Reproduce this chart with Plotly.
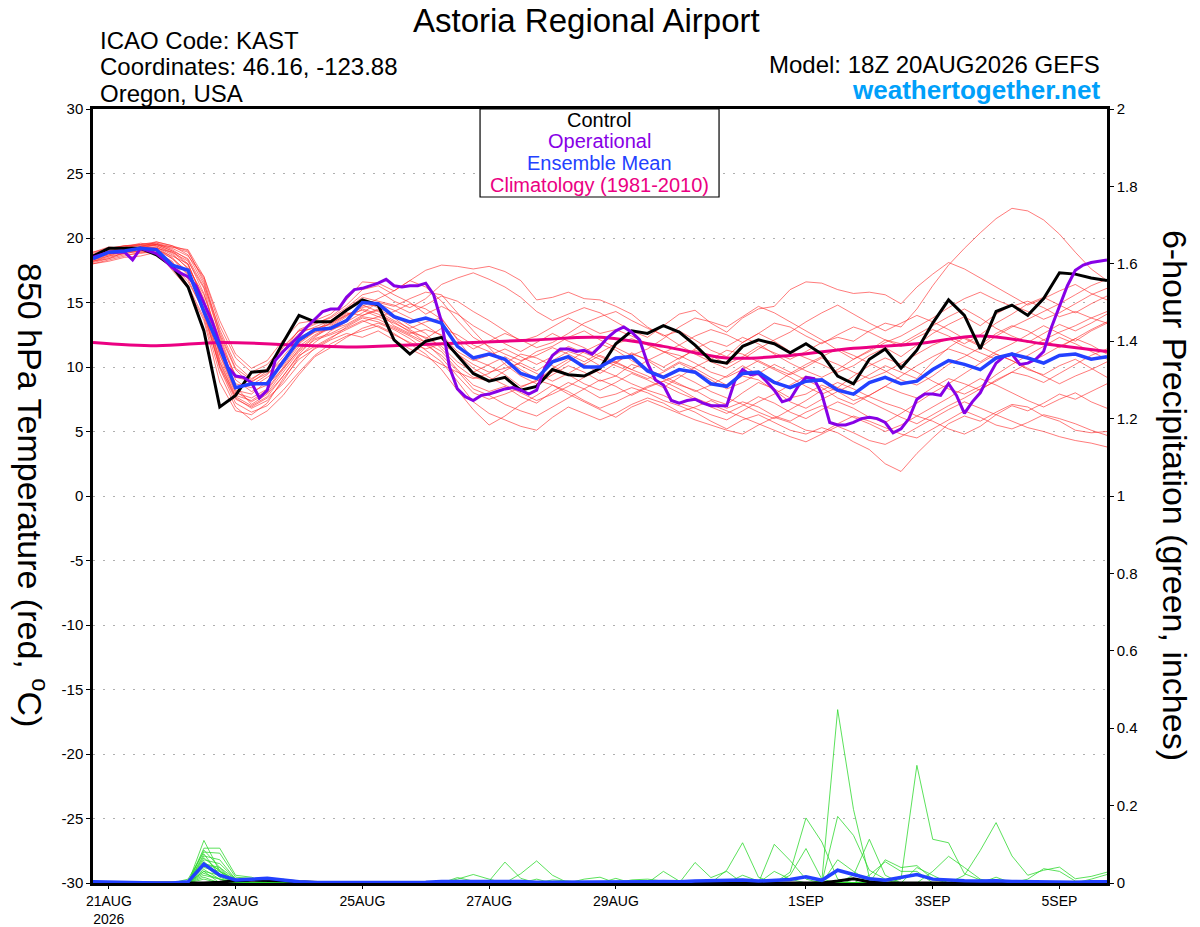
import pandas as pd
import plotly.graph_objects as go

# time axes (6-hourly ensemble, 3-hourly operational, daily climatology)
times = pd.date_range("2026-08-20 18:00", periods=65, freq="6h")
op_times = pd.date_range("2026-08-20 18:00", periods=129, freq="3h")
clim_times = pd.date_range("2026-08-20 18:00", periods=17, freq="24h")

tick_dates = ["2026-08-21", "2026-08-23", "2026-08-25", "2026-08-27", "2026-08-29",
              "2026-09-01", "2026-09-03", "2026-09-05"]
tick_labels = ["21AUG<br>2026", "23AUG", "25AUG", "27AUG", "29AUG", "1SEP", "3SEP", "5SEP"]
temp_ticks = [-30, -25, -20, -15, -10, -5, 0, 5, 10, 15, 20, 25, 30]
temp_tick_text = ["-30", "-25", "-20", "-15", "-10", "-5", "0", "5", "10", "15", "20", "25", "30"]

# 850 hPa temperature, control / mean / climatology / operational
control_t = [18.6, 19.2, 19.2, 19.2, 18.7, 17.8, 16.2, 12.8, 6.9, 7.8,
             9.6, 9.7, 11.9, 14.0, 13.5, 13.5, 14.4, 15.2, 14.8, 12.1,
             11.0, 12.0, 12.3, 10.9, 9.5, 8.9, 9.2, 8.2, 8.5, 9.8,
             9.4, 9.3, 9.9, 11.8, 12.8, 12.6, 13.2, 12.7, 11.7, 10.5,
             10.3, 11.6, 12.1, 11.8, 11.1, 11.8, 11.0, 9.3, 8.7, 10.6,
             11.4, 9.9, 11.3, 13.4, 15.2, 14.0, 11.4, 14.3, 14.8, 14.0,
             15.3, 17.3, 17.2, 16.9, 16.7]
mean_t = [18.4, 18.9, 19.0, 19.2, 19.1, 17.9, 17.5, 14.3, 11.5, 8.4,
          8.7, 8.7, 10.4, 12.1, 12.9, 13.0, 13.6, 15.0, 14.9, 13.9,
          13.5, 13.8, 13.4, 11.6, 10.7, 11.0, 10.6, 9.5, 9.1, 10.4,
          10.8, 10.0, 10.0, 10.7, 10.8, 9.7, 9.2, 9.8, 9.6, 8.7,
          8.5, 9.5, 9.6, 8.8, 8.4, 8.9, 9.0, 8.2, 7.9, 8.8,
          9.2, 8.7, 8.9, 9.8, 10.5, 10.2, 9.8, 10.7, 11.0, 10.7,
          10.3, 10.9, 11.0, 10.6, 10.8]
clim_t = [11.9, 11.65, 11.9, 11.75, 11.55, 11.7, 11.9, 12.1, 12.3, 11.6,
          10.7, 10.9, 11.45, 11.8, 12.4, 11.8, 11.2]
oper_t = [18.5, 18.7, 18.9, 18.9, 18.9, 18.3, 19.2, 19.0, 18.8, 18.3,
          17.7, 17.3, 17.0, 16.3, 15.0, 13.6, 11.8, 10.0, 9.3, 9.2,
          8.8, 7.6, 8.2, 10.5, 11.2, 11.8, 12.4, 13.1, 13.7, 14.3,
          14.5, 14.5, 15.4, 16.0, 16.1, 16.3, 16.5, 16.8, 16.3, 16.2,
          16.3, 16.3, 16.5, 15.6, 13.5, 10.0, 8.3, 7.7, 7.4, 7.8,
          7.9, 8.1, 8.3, 8.4, 8.2, 7.9, 8.2, 9.9, 10.9, 11.4,
          11.4, 11.2, 11.3, 11.0, 11.6, 12.3, 12.8, 13.1, 12.7, 12.1,
          10.3, 9.0, 8.6, 7.4, 7.2, 7.4, 7.5, 7.2, 7.0, 7.0,
          7.0, 8.9, 9.8, 9.4, 9.5, 8.9, 8.2, 7.3, 7.5, 8.5,
          9.2, 9.1, 7.9, 5.7, 5.5, 5.5, 5.7, 6.0, 6.1, 6.0,
          5.7, 4.9, 5.2, 6.0, 7.5, 7.9, 7.9, 7.8, 8.7, 7.8,
          6.4, 7.3, 8.0, 9.2, 10.3, 10.8, 11.0, 10.2, 10.3, 10.6,
          11.2, 13.1, 14.7, 16.3, 17.5, 17.9, 18.1, 18.2, 18.3]

# ensemble members, temperature
t_m01 = [18.3, 18.7, 19.0, 19.3, 19.5, 19.0, 18.4, 16.2, 12.5, 9.8, 8.6, 9.4, 10.8,
         12.3, 12.9, 13.4, 14.0, 14.6, 14.9, 14.4, 13.8, 13.2, 12.4, 11.0, 10.2, 9.6,
         9.9, 10.3, 9.7, 10.5, 11.2, 10.8, 10.1, 10.4, 11.0, 10.6, 10.0, 10.7, 11.3,
         10.9, 10.2, 10.8, 11.6, 11.1, 10.6, 11.2, 11.9, 12.3, 12.0, 12.8, 13.4, 13.1,
         14.5, 16.3, 17.9, 19.2, 20.4, 21.5, 22.3, 22.1, 21.4, 20.3, 18.9, 17.6, 16.7]
t_m02 = [18.9, 19.3, 19.2, 19.5, 19.6, 19.3, 19.1, 17.0, 13.6, 11.0, 9.9, 10.5, 12.1,
         13.4, 13.6, 14.1, 15.2, 16.6, 16.5, 15.9, 16.7, 17.5, 17.9, 17.8, 17.6, 17.8,
         17.4, 16.7, 15.2, 15.4, 15.8, 15.3, 15.2, 14.7, 14.1, 13.1, 12.4, 12.8, 12.1,
         11.3, 10.8, 11.9, 12.6, 12.0, 11.2, 10.7, 10.2, 9.6, 10.1, 10.9, 11.5, 10.8,
         11.7, 12.6, 13.3, 13.9, 13.2, 14.1, 14.8, 14.3, 13.7, 14.2, 14.9, 15.6, 16.1]
t_m03 = [18.2, 18.5, 18.8, 19.0, 19.1, 18.6, 18.0, 15.1, 11.2, 8.5, 7.1, 7.9, 9.3,
         11.0, 12.2, 12.6, 13.2, 13.9, 13.7, 13.1, 12.5, 11.9, 11.2, 9.8, 8.6, 8.1,
         8.5, 7.7, 7.2, 8.1, 8.8, 8.3, 7.6, 7.9, 8.4, 8.0, 7.4, 7.0, 6.5,
         5.8, 5.2, 5.9, 6.3, 5.7, 5.1, 4.8, 5.3, 4.9, 4.2, 3.6, 2.5, 1.9,
         3.3, 4.5, 5.6, 6.2, 5.8, 6.5, 7.1, 6.9, 6.2, 5.8, 5.1, 4.9, 5.0]
t_m04 = [18.5, 18.9, 19.3, 19.6, 19.4, 18.8, 17.6, 14.0, 10.1, 7.6, 6.8, 7.4, 8.9,
         10.8, 11.9, 12.8, 13.5, 14.2, 15.0, 14.7, 15.3, 15.8, 15.6, 14.2, 12.8, 11.5,
         10.2, 9.3, 8.7, 9.4, 10.1, 9.6, 8.9, 9.3, 10.2, 9.8, 9.1, 8.6, 8.2,
         7.5, 7.1, 8.0, 8.8, 8.3, 7.6, 7.9, 8.6, 8.1, 7.4, 7.8, 8.5, 8.0,
         7.6, 8.4, 9.1, 8.7, 8.2, 9.0, 9.6, 9.3, 8.8, 9.5, 10.2, 10.9, 11.4]
t_m05 = [18.0, 18.2, 18.5, 18.6, 18.9, 18.2, 16.3, 13.8, 9.5, 6.9, 5.9, 6.6, 7.8,
         9.4, 10.8, 11.5, 12.3, 13.0, 13.4, 12.9, 12.2, 11.3, 10.4, 8.9, 7.3, 6.4,
         5.9, 5.4, 5.1, 6.1, 6.9, 6.4, 5.9, 6.4, 7.1, 7.6, 7.2, 6.5, 6.9,
         7.4, 6.8, 7.3, 6.9, 6.2, 5.8, 6.5, 7.0, 6.6, 6.1, 5.6, 5.0, 5.5,
         6.2, 5.8, 5.2, 4.8, 5.4, 6.3, 7.0, 6.6, 7.2, 7.9, 7.5, 8.1, 8.7]
t_m06 = [18.6, 19.0, 19.1, 19.3, 19.7, 19.4, 18.7, 16.4, 12.9, 10.2, 9.1, 9.8, 11.3,
         12.6, 13.1, 13.6, 14.4, 15.1, 14.6, 14.0, 13.2, 12.6, 11.4, 10.1, 9.2, 8.9,
         9.7, 10.4, 11.2, 11.6, 12.3, 12.8, 12.1, 11.5, 10.9, 11.4, 12.2, 13.1, 13.8,
         13.5, 13.1, 13.9, 14.7, 14.2, 13.5, 12.8, 12.1, 11.3, 10.6, 11.2, 11.9, 12.4,
         13.1, 13.8, 14.6, 15.3, 15.8, 15.2, 14.7, 15.1, 14.6, 13.9, 14.3, 13.8, 13.4]
t_m07 = [18.4, 18.8, 18.9, 19.1, 19.3, 18.5, 17.2, 14.6, 10.6, 8.0, 7.6, 8.3, 10.0,
         11.6, 12.5, 13.1, 13.9, 14.8, 14.3, 13.6, 13.0, 13.5, 13.8, 12.1, 10.6, 10.1,
         9.4, 8.5, 8.9, 9.9, 10.6, 10.2, 9.5, 10.3, 11.1, 10.5, 9.7, 10.4, 9.9,
         9.2, 8.6, 9.3, 9.0, 8.2, 7.3, 6.8, 7.5, 8.1, 8.7, 9.4, 10.1, 9.6,
         9.1, 10.4, 11.5, 12.3, 11.7, 12.6, 13.2, 12.8, 12.1, 11.5, 12.2, 12.9, 13.5]
t_m08 = [18.1, 18.4, 18.9, 19.2, 19.0, 17.5, 16.1, 13.6, 8.8, 6.6, 6.3, 7.2, 9.1,
         10.6, 11.4, 12.1, 12.6, 12.3, 12.8, 12.1, 11.4, 10.8, 10.2, 9.6, 9.1, 9.5,
         10.3, 11.0, 10.7, 10.1, 9.4, 8.7, 8.2, 8.8, 9.5, 9.0, 8.4, 9.2, 10.0,
         10.6, 11.3, 11.0, 10.4, 9.8, 9.2, 8.5, 7.9, 8.4, 9.3, 10.1, 10.7, 10.2,
         9.6, 8.9, 8.3, 7.9, 8.5, 9.4, 10.2, 10.9, 11.6, 12.3, 11.8, 11.2, 10.6]
t_m09 = [18.7, 19.1, 19.4, 19.5, 19.6, 19.1, 18.3, 15.7, 11.8, 9.4, 8.8, 9.7, 11.2,
         12.9, 13.4, 13.8, 14.6, 15.6, 15.9, 15.1, 14.6, 15.3, 16.4, 16.9, 17.3, 16.8,
         16.2, 15.4, 14.3, 13.6, 14.1, 14.6, 14.2, 13.5, 12.8, 12.3, 13.2, 14.1, 14.4,
         13.4, 12.7, 13.8, 14.5, 14.7, 16.0, 16.6, 16.5, 16.0, 15.7, 15.8, 15.6, 14.9,
         16.2, 17.2, 18.1, 17.6, 16.9, 16.2, 15.5, 14.8, 15.3, 15.9, 16.4, 15.7, 15.2]
t_m10 = [18.3, 18.6, 19.0, 18.9, 19.2, 18.9, 17.9, 15.3, 11.0, 8.2, 7.9, 8.9, 10.6,
         12.0, 12.7, 12.9, 13.3, 14.0, 14.5, 13.8, 12.9, 12.2, 13.0, 12.5, 11.7, 11.2,
         10.6, 9.8, 9.1, 9.6, 10.4, 11.2, 11.8, 11.3, 10.5, 9.8, 9.3, 8.7, 8.1,
         8.6, 9.3, 10.1, 9.4, 8.7, 9.5, 10.2, 10.8, 11.4, 10.9, 10.3, 9.7, 9.0,
         8.6, 9.3, 10.2, 10.8, 11.5, 12.4, 13.1, 13.7, 14.3, 14.9, 15.6, 16.3, 16.8]
t_m11 = [18.8, 19.2, 19.4, 19.4, 19.5, 19.2, 18.6, 17.0, 13.2, 10.7, 9.6, 10.2, 11.6,
         12.8, 13.0, 13.3, 14.1, 14.4, 13.9, 14.3, 14.9, 14.5, 13.7, 12.2, 11.4, 12.0,
         12.6, 12.1, 11.5, 11.9, 12.6, 13.4, 13.9, 14.3, 13.6, 13.0, 12.5, 11.7, 11.0,
         10.4, 9.9, 10.6, 11.4, 12.1, 12.7, 13.5, 14.2, 14.8, 14.1, 13.4, 12.8, 13.4,
         14.0, 13.5, 12.9, 12.2, 11.6, 11.0, 10.5, 9.8, 9.4, 10.1, 10.6, 9.9, 9.2]
t_m12 = [18.2, 18.4, 18.7, 18.8, 19.0, 18.1, 16.8, 14.2, 9.9, 7.2, 6.5, 7.0, 8.2,
         9.6, 10.9, 11.8, 12.4, 12.8, 13.2, 12.6, 11.8, 11.0, 9.8, 8.2, 6.7, 5.5,
         6.2, 7.1, 7.8, 8.6, 8.1, 7.4, 6.8, 7.3, 7.9, 8.5, 8.9, 9.4, 8.8,
         8.1, 7.6, 7.1, 6.5, 6.0, 6.7, 7.4, 8.2, 8.8, 8.3, 7.7, 7.2, 6.8,
         6.2, 6.9, 7.6, 8.4, 9.1, 8.6, 8.0, 7.4, 6.9, 7.5, 8.0, 7.3, 6.8]
t_m13 = [18.5, 18.7, 19.0, 19.2, 19.3, 18.7, 17.7, 15.6, 12.2, 9.0, 8.1, 8.6, 9.9,
         11.3, 12.3, 13.2, 14.0, 14.7, 15.3, 15.9, 16.7, 16.2, 15.1, 13.6, 12.3, 11.6,
         11.0, 10.5, 10.9, 11.5, 11.0, 10.4, 11.1, 11.8, 12.2, 11.7, 11.2, 10.6, 11.4,
         12.0, 11.6, 12.3, 11.8, 11.0, 10.3, 9.7, 9.2, 9.8, 10.6, 11.3, 12.1, 11.8,
         12.5, 13.2, 13.9, 14.5, 13.8, 13.0, 12.4, 11.9, 12.6, 13.3, 12.8, 13.4, 14.1]
t_m14 = [18.3, 18.9, 19.2, 19.3, 19.4, 18.9, 18.2, 16.1, 11.4, 8.7, 8.4, 9.2, 10.1,
         11.8, 12.7, 13.4, 14.2, 14.0, 14.4, 13.2, 12.6, 12.9, 12.5, 11.2, 10.5, 10.9,
         11.4, 10.8, 10.2, 10.8, 11.6, 11.1, 10.6, 10.1, 9.6, 9.1, 9.6, 10.3, 9.7,
         9.0, 8.3, 8.8, 9.5, 10.2, 9.6, 9.0, 8.4, 7.6, 7.1, 7.8, 8.5, 9.3,
         10.1, 10.8, 11.4, 11.0, 10.4, 11.2, 11.8, 12.5, 13.2, 12.6, 12.0, 12.8, 13.4]
t_m15 = [18.6, 19.0, 19.3, 19.4, 19.5, 19.0, 18.0, 15.0, 10.9, 8.1, 7.3, 8.0, 9.6,
         11.2, 12.1, 12.5, 13.0, 13.6, 13.1, 12.5, 11.9, 11.4, 11.8, 11.0, 9.9, 9.2,
         8.6, 8.0, 7.4, 7.9, 8.5, 9.2, 9.8, 9.3, 8.7, 8.2, 7.8, 7.2, 6.8,
         6.3, 5.9, 6.6, 7.3, 7.9, 8.6, 9.3, 9.0, 8.4, 7.9, 7.3, 6.7, 6.1,
         5.6, 6.3, 7.0, 7.6, 8.3, 8.9, 9.6, 10.3, 10.9, 11.6, 12.2, 11.7, 11.0]
t_m16 = [18.4, 18.8, 19.1, 19.2, 19.5, 19.3, 18.9, 16.8, 12.7, 9.9, 9.0, 9.9, 11.5,
         12.8, 13.3, 13.9, 14.8, 16.0, 16.3, 15.6, 15.0, 14.1, 14.7, 14.1, 13.2, 12.5,
         11.8, 11.2, 11.9, 12.6, 12.0, 11.5, 10.8, 10.3, 9.8, 10.5, 11.1, 11.7, 12.4,
         12.9, 12.5, 11.9, 12.6, 13.4, 13.1, 12.4, 11.8, 12.5, 13.1, 12.7, 12.1, 11.6,
         12.3, 12.9, 12.4, 11.8, 12.5, 13.4, 14.1, 14.9, 15.4, 14.8, 14.2, 14.9, 15.5]
t_m17 = [18.0, 18.3, 18.6, 18.9, 18.8, 18.0, 16.6, 14.4, 10.3, 7.7, 7.0, 7.7, 9.3,
         10.9, 11.6, 12.3, 12.9, 13.5, 13.9, 13.4, 12.8, 11.9, 10.7, 9.3, 8.0, 7.5,
         7.9, 8.4, 9.0, 8.6, 7.9, 7.3, 6.7, 6.1, 6.9, 7.4, 6.9, 6.4, 5.9,
         5.5, 5.1, 4.8, 5.5, 6.1, 5.7, 5.1, 4.9, 5.6, 6.2, 5.8, 5.3, 4.8,
         4.5, 5.2, 5.9, 6.6, 6.1, 5.5, 5.2, 5.7, 6.3, 6.0, 5.6, 5.1, 4.7]
t_m18 = [18.7, 19.0, 19.1, 19.3, 19.2, 18.4, 17.4, 14.9, 10.4, 7.8, 7.4, 8.2, 9.8,
         11.4, 12.4, 13.0, 13.7, 14.5, 14.1, 13.5, 12.7, 12.3, 11.6, 10.4, 9.6, 10.2,
         10.8, 10.1, 9.5, 8.9, 9.5, 10.2, 10.9, 10.4, 9.8, 9.3, 8.6, 8.0, 7.5,
         6.9, 6.4, 7.0, 7.7, 7.2, 6.5, 6.0, 6.7, 7.3, 6.8, 6.1, 5.7, 6.4,
         7.2, 8.0, 8.7, 9.5, 10.3, 11.0, 10.5, 9.9, 9.3, 8.7, 9.3, 9.8, 10.4]
t_m19 = [18.9, 19.2, 19.4, 19.5, 19.7, 19.4, 19.0, 16.6, 12.4, 9.2, 8.9, 9.5, 10.5,
         11.9, 12.8, 13.6, 14.5, 15.4, 15.1, 14.8, 14.2, 14.8, 15.5, 15.1, 14.3, 13.6,
         12.8, 12.0, 12.4, 13.1, 13.8, 13.2, 12.6, 12.9, 12.4, 11.8, 11.2, 10.9, 10.3,
         9.6, 9.2, 9.8, 10.5, 9.9, 9.4, 10.0, 10.7, 10.2, 9.6, 9.1, 9.6, 10.3,
         11.0, 11.7, 12.2, 11.6, 11.1, 10.6, 10.9, 11.5, 12.1, 12.7, 13.2, 13.8, 14.3]
t_m20 = [18.2, 18.6, 18.8, 19.0, 19.1, 18.4, 17.1, 14.4, 10.0, 7.5, 6.9, 7.6, 8.7,
         10.2, 11.5, 12.2, 13.1, 13.8, 13.5, 13.0, 12.4, 11.7, 10.9, 9.7, 8.3, 7.8,
         7.1, 6.6, 6.2, 6.9, 7.6, 8.3, 9.0, 8.5, 7.8, 8.4, 8.9, 8.3, 7.6,
         7.1, 6.6, 6.1, 5.6, 5.1, 4.6, 4.2, 4.8, 5.4, 4.9, 4.3, 4.0, 4.6,
         5.3, 6.0, 6.7, 7.3, 6.8, 6.3, 5.8, 5.3, 5.0, 4.6, 4.3, 4.1, 3.8]

# 6-hour precipitation (inches): control, mean and members
control_p = [0, 0, 0, 0, 0, 0, 0, 0, 0.002, 0.006, 0.007, 0.007, 0.006,
             0.003, 0.001, 0, 0, 0, 0, 0, 0, 0, 0, 0, 0, 0,
             0, 0, 0, 0, 0, 0, 0, 0, 0, 0, 0, 0, 0,
             0, 0, 0, 0, 0, 0, 0, 0, 0.005, 0.011, 0.003, 0, 0,
             0, 0, 0, 0, 0, 0, 0, 0, 0, 0, 0, 0, 0]
mean_p = [0.003, 0.002, 0, 0, 0, 0, 0.003, 0.049, 0.02, 0.008, 0.01, 0.012, 0.008,
          0.003, 0.001, 0.001, 0.001, 0.001, 0.001, 0.001, 0.001, 0.002, 0.004, 0.004, 0.006, 0.006,
          0.005, 0.004, 0.002, 0.002, 0.002, 0.001, 0.002, 0.002, 0.002, 0.003, 0.004, 0.003, 0.005,
          0.006, 0.007, 0.008, 0.005, 0.006, 0.009, 0.016, 0.007, 0.033, 0.022, 0.011, 0.007, 0.014,
          0.022, 0.01, 0.007, 0.006, 0.005, 0.006, 0.004, 0.003, 0.004, 0.003, 0.002, 0.003, 0.003]

p_m01 = [0, 0, 0, 0, 0, 0, 0, 0.11, 0.03, 0.01, 0, 0, 0,
         0, 0, 0, 0, 0, 0, 0, 0, 0, 0, 0, 0, 0,
         0, 0, 0, 0, 0, 0, 0, 0, 0, 0, 0.03, 0.005, 0,
         0, 0, 0, 0, 0, 0, 0, 0, 0, 0, 0, 0, 0,
         0, 0, 0, 0, 0, 0, 0, 0, 0, 0, 0, 0, 0]
p_m02 = [0, 0, 0, 0, 0, 0, 0, 0.09, 0.09, 0.02, 0.015, 0, 0,
         0, 0, 0, 0, 0, 0, 0, 0, 0, 0, 0, 0, 0,
         0, 0, 0, 0, 0, 0, 0, 0, 0, 0, 0, 0, 0.053,
         0.014, 0.03, 0, 0, 0, 0, 0, 0, 0, 0, 0, 0, 0,
         0, 0, 0, 0, 0, 0, 0, 0, 0, 0, 0, 0, 0]
p_m03 = [0, 0, 0, 0, 0, 0, 0, 0.085, 0.04, 0.01, 0, 0, 0,
         0, 0, 0, 0, 0, 0, 0, 0, 0, 0, 0.01, 0.022, 0.01,
         0, 0, 0, 0, 0, 0, 0, 0, 0, 0, 0, 0, 0,
         0, 0.033, 0.104, 0.015, 0, 0, 0, 0, 0, 0, 0, 0, 0,
         0, 0, 0, 0, 0, 0, 0, 0, 0, 0, 0, 0, 0]
p_m04 = [0, 0, 0, 0, 0, 0, 0.01, 0.08, 0.077, 0.015, 0.012, 0, 0,
         0, 0, 0, 0, 0, 0, 0, 0, 0, 0, 0, 0, 0,
         0, 0, 0, 0, 0, 0, 0, 0, 0, 0, 0, 0, 0,
         0, 0, 0, 0, 0.1, 0.058, 0.01, 0, 0, 0, 0, 0, 0,
         0, 0, 0, 0, 0, 0, 0, 0, 0, 0, 0, 0, 0]
p_m05 = [0, 0, 0, 0, 0, 0, 0, 0.075, 0.02, 0, 0, 0, 0,
         0, 0, 0, 0, 0, 0, 0, 0, 0, 0, 0.014, 0.005, 0,
         0, 0, 0, 0, 0, 0, 0, 0, 0, 0, 0, 0, 0,
         0, 0, 0, 0, 0, 0.028, 0.168, 0.106, 0.01, 0, 0, 0, 0,
         0, 0, 0, 0, 0, 0, 0, 0, 0, 0, 0, 0, 0]
p_m06 = [0, 0, 0, 0, 0, 0, 0, 0.07, 0.06, 0.01, 0, 0.008, 0,
         0, 0, 0, 0, 0, 0, 0, 0, 0, 0, 0, 0, 0,
         0, 0, 0, 0, 0, 0, 0, 0, 0, 0, 0, 0, 0,
         0, 0, 0, 0, 0, 0.02, 0.089, 0.01, 0, 0, 0, 0, 0,
         0, 0, 0, 0, 0, 0, 0, 0, 0, 0, 0, 0, 0]
p_m07 = [0, 0, 0, 0, 0, 0, 0, 0.065, 0.03, 0, 0, 0, 0,
         0, 0, 0, 0, 0, 0, 0, 0, 0, 0, 0, 0, 0.005,
         0.054, 0.012, 0, 0, 0, 0, 0, 0, 0, 0, 0, 0, 0,
         0, 0, 0, 0, 0, 0, 0, 0.005, 0.448, 0.19, 0.015, 0, 0,
         0, 0, 0, 0, 0, 0, 0, 0, 0, 0, 0, 0, 0]
p_m08 = [0, 0, 0, 0, 0, 0, 0, 0.06, 0.05, 0.01, 0, 0, 0,
         0, 0, 0, 0, 0, 0, 0, 0, 0, 0, 0, 0, 0,
         0, 0, 0, 0, 0, 0, 0, 0, 0, 0, 0, 0, 0,
         0, 0, 0, 0, 0, 0, 0, 0, 0.172, 0.123, 0.033, 0.01, 0,
         0, 0, 0, 0, 0, 0, 0, 0, 0, 0, 0, 0, 0]
p_m09 = [0, 0, 0, 0, 0, 0, 0, 0.055, 0.02, 0, 0, 0, 0,
         0, 0, 0, 0, 0, 0, 0, 0, 0, 0, 0, 0, 0,
         0, 0.024, 0.057, 0.02, 0, 0, 0, 0, 0, 0, 0, 0, 0,
         0, 0, 0, 0, 0, 0, 0, 0, 0, 0.02, 0.113, 0.02, 0,
         0, 0, 0, 0, 0, 0, 0, 0, 0, 0, 0, 0, 0]
p_m10 = [0, 0, 0, 0, 0, 0, 0, 0.05, 0.035, 0, 0, 0, 0,
         0, 0, 0, 0, 0, 0, 0, 0, 0, 0, 0, 0, 0,
         0, 0, 0, 0, 0, 0, 0, 0, 0, 0, 0, 0, 0,
         0, 0, 0, 0, 0, 0, 0, 0, 0, 0, 0, 0.06, 0.04,
         0.045, 0.01, 0, 0, 0, 0, 0, 0, 0, 0, 0, 0, 0]
p_m11 = [0, 0, 0, 0, 0, 0, 0, 0.045, 0.015, 0, 0, 0, 0,
         0, 0, 0, 0, 0, 0, 0, 0, 0, 0, 0, 0, 0,
         0, 0, 0.01, 0, 0, 0, 0, 0, 0, 0, 0, 0, 0,
         0, 0, 0, 0, 0, 0, 0, 0, 0, 0, 0, 0, 0.01,
         0.304, 0.113, 0.104, 0.024, 0.008, 0, 0, 0, 0, 0, 0, 0, 0]
p_m12 = [0, 0, 0, 0, 0, 0, 0, 0.04, 0.03, 0, 0, 0, 0,
         0, 0, 0, 0, 0, 0, 0, 0, 0, 0, 0, 0, 0,
         0, 0, 0, 0, 0, 0, 0, 0, 0, 0, 0, 0, 0,
         0, 0, 0, 0, 0, 0, 0, 0, 0, 0, 0, 0, 0,
         0, 0, 0, 0.02, 0.084, 0.156, 0.07, 0.02, 0.033, 0.041, 0.011, 0.017, 0.028]
p_m13 = [0, 0, 0, 0, 0, 0, 0, 0.035, 0.01, 0, 0, 0, 0,
         0, 0, 0, 0, 0, 0, 0, 0, 0, 0, 0, 0, 0,
         0, 0, 0, 0.008, 0.005, 0, 0, 0, 0, 0, 0, 0, 0,
         0, 0, 0, 0, 0, 0, 0, 0, 0, 0, 0, 0, 0,
         0, 0.03, 0.069, 0.04, 0.01, 0, 0, 0, 0, 0, 0, 0, 0]
p_m14 = [0, 0, 0, 0, 0, 0, 0, 0.03, 0.02, 0, 0, 0, 0,
         0, 0, 0, 0, 0, 0, 0, 0, 0, 0, 0, 0, 0,
         0, 0, 0, 0, 0, 0.01, 0.015, 0, 0, 0, 0, 0, 0,
         0, 0, 0, 0, 0, 0, 0, 0, 0, 0, 0, 0, 0,
         0, 0, 0, 0, 0, 0, 0, 0.01, 0.037, 0.03, 0.005, 0, 0]
p_m15 = [0, 0, 0, 0, 0, 0, 0, 0.025, 0.01, 0, 0, 0, 0,
         0, 0, 0, 0, 0, 0, 0, 0, 0, 0, 0, 0, 0,
         0, 0, 0, 0, 0, 0, 0, 0, 0.008, 0.01, 0.005, 0, 0,
         0, 0, 0.02, 0.005, 0, 0, 0, 0, 0, 0, 0, 0, 0,
         0, 0, 0, 0, 0, 0, 0, 0, 0, 0, 0, 0, 0]
p_m16 = [0, 0, 0, 0, 0, 0, 0, 0.02, 0.01, 0, 0, 0, 0,
         0, 0, 0, 0, 0, 0, 0, 0, 0, 0, 0, 0, 0,
         0, 0, 0, 0, 0, 0, 0, 0, 0, 0, 0, 0, 0,
         0, 0, 0, 0, 0, 0, 0, 0, 0.06, 0.03, 0.005, 0, 0,
         0, 0, 0, 0, 0, 0, 0, 0, 0, 0, 0, 0, 0]
p_m17 = [0, 0, 0, 0, 0, 0, 0, 0.015, 0, 0, 0, 0, 0,
         0, 0, 0, 0, 0, 0, 0, 0, 0, 0, 0, 0, 0,
         0, 0, 0, 0, 0, 0, 0, 0, 0, 0, 0, 0, 0,
         0, 0, 0, 0, 0, 0, 0, 0, 0, 0, 0.02, 0.055, 0.03,
         0.03, 0, 0, 0, 0, 0, 0, 0, 0, 0, 0, 0, 0]
p_m18 = [0, 0, 0, 0, 0, 0, 0, 0.01, 0, 0, 0, 0, 0,
         0, 0, 0, 0, 0, 0, 0, 0, 0, 0, 0, 0, 0,
         0, 0, 0, 0, 0, 0, 0, 0.012, 0, 0, 0, 0, 0,
         0, 0, 0, 0, 0, 0, 0, 0, 0, 0, 0, 0, 0,
         0.04, 0.02, 0, 0, 0, 0, 0, 0, 0, 0, 0, 0, 0]
p_m19 = [0, 0, 0, 0, 0, 0, 0, 0.05, 0.04, 0, 0, 0, 0.01,
         0, 0, 0, 0, 0, 0, 0, 0, 0, 0, 0, 0, 0,
         0, 0, 0, 0, 0, 0, 0, 0, 0, 0, 0, 0, 0,
         0, 0, 0, 0, 0, 0, 0, 0, 0, 0, 0, 0, 0,
         0, 0, 0, 0, 0, 0, 0, 0, 0, 0, 0, 0.01, 0.022]
p_m20 = [0, 0, 0, 0, 0, 0, 0, 0.03, 0, 0, 0, 0, 0,
         0, 0, 0, 0, 0, 0, 0, 0, 0, 0, 0, 0, 0,
         0, 0, 0, 0, 0, 0, 0, 0, 0, 0, 0, 0, 0,
         0, 0, 0, 0, 0.03, 0.01, 0, 0, 0, 0, 0, 0, 0,
         0, 0, 0, 0, 0, 0.015, 0, 0, 0, 0, 0, 0, 0]

temp_members = [t_m01, t_m02, t_m03, t_m04, t_m05, t_m06, t_m07, t_m08, t_m09, t_m10,
                t_m11, t_m12, t_m13, t_m14, t_m15, t_m16, t_m17, t_m18, t_m19, t_m20]
prec_members = [p_m01, p_m02, p_m03, p_m04, p_m05, p_m06, p_m07, p_m08, p_m09, p_m10,
                p_m11, p_m12, p_m13, p_m14, p_m15, p_m16, p_m17, p_m18, p_m19, p_m20]

RED = "rgba(255,45,45,0.7)"
GREEN = "rgba(40,215,40,0.85)"
PURPLE = "rgb(135,0,230)"
BLUE = "rgb(35,65,255)"
PINK = "rgb(235,0,130)"
FONT = "Liberation Sans, Arial, sans-serif"

fig = go.Figure()

for m in temp_members:
    fig.add_trace(go.Scatter(x=times, y=m, mode="lines", line=dict(color=RED, width=0.9),
                             hoverinfo="skip", showlegend=False))
for m in prec_members:
    fig.add_trace(go.Scatter(x=times, y=m, mode="lines", yaxis="y2",
                             line=dict(color=GREEN, width=0.9), hoverinfo="skip", showlegend=False))
fig.add_trace(go.Scatter(x=times, y=control_p, mode="lines", yaxis="y2",
                         line=dict(color="black", width=3), showlegend=False))
fig.add_trace(go.Scatter(x=times, y=mean_p, mode="lines", yaxis="y2",
                         line=dict(color=BLUE, width=3.5), showlegend=False))

fig.add_trace(go.Scatter(x=clim_times, y=clim_t, mode="lines",
                         line=dict(color=PINK, width=3, shape="spline", smoothing=1), showlegend=False))
fig.add_trace(go.Scatter(x=times, y=control_t, mode="lines",
                         line=dict(color="black", width=3), showlegend=False))
fig.add_trace(go.Scatter(x=op_times, y=oper_t, mode="lines",
                         line=dict(color=PURPLE, width=3), showlegend=False))
fig.add_trace(go.Scatter(x=times, y=mean_t, mode="lines",
                         line=dict(color=BLUE, width=3.5), showlegend=False))

# legend box
fig.add_shape(type="rect", xref="paper", yref="paper", x0=0.3817, x1=0.6174, y0=0.8863, y1=1.0,
              line=dict(color="black", width=1.2), fillcolor="white", layer="above")
legend_items = [("Control", "black", 0.9858), ("Operational", PURPLE, 0.9587),
                ("Ensemble Mean", BLUE, 0.9302), ("Climatology (1981-2010)", PINK, 0.9018)]
for txt, col, yy in legend_items:
    fig.add_annotation(text=txt, xref="paper", yref="paper", x=0.4995, y=yy, showarrow=False,
                       xanchor="center", yanchor="middle", font=dict(size=20, color=col, family=FONT))

# header texts
fig.add_annotation(text="Astoria Regional Airport", xref="paper", yref="paper", x=0.4862, y=1.114,
                   showarrow=False, xanchor="center", yanchor="middle",
                   font=dict(size=33, color="black", family=FONT))
for txt, yy in [("ICAO Code: KAST", 1.089), ("Coordinates: 46.16, -123.88", 1.055),
                ("Oregon, USA", 1.020)]:
    fig.add_annotation(text=txt, xref="paper", yref="paper", x=0.005, y=yy, showarrow=False,
                       xanchor="left", yanchor="middle", font=dict(size=24, color="black", family=FONT))
fig.add_annotation(text="Model: 18Z 20AUG2026 GEFS", xref="paper", yref="paper", x=0.9951, y=1.058,
                   showarrow=False, xanchor="right", yanchor="middle",
                   font=dict(size=24, color="black", family=FONT))
fig.add_annotation(text="<b>weathertogether.net</b>", xref="paper", yref="paper", x=0.9951, y=1.024,
                   showarrow=False, xanchor="right", yanchor="middle",
                   font=dict(size=26, color="rgb(0,160,250)", family=FONT))

# axis titles (both read top to bottom)
fig.add_annotation(text="850 hPa Temperature (red, <sup>o</sup>C)", xref="paper", yref="paper",
                   x=-0.0602, y=0.5013, textangle=90, showarrow=False, xanchor="center", yanchor="middle",
                   font=dict(size=34, color="black", family=FONT))
fig.add_annotation(text="6-hour Precipitation (green, inches)", xref="paper", yref="paper",
                   x=1.0671, y=0.5013, textangle=90, showarrow=False, xanchor="center", yanchor="middle",
                   font=dict(size=34, color="black", family=FONT))

# page body has an 8px margin, so the figure is 8px smaller than the window
fig.update_layout(
    width=1192, height=919,
    margin=dict(l=85, r=93, t=101, b=44, autoexpand=False),
    paper_bgcolor="white", plot_bgcolor="white",
    font=dict(family=FONT, color="black", size=15),
    showlegend=False,
    xaxis=dict(range=[times[0], times[-1]], tickvals=tick_dates, ticktext=tick_labels,
               showgrid=False, zeroline=False, showline=True, linecolor="black", linewidth=2.5,
               mirror=True, ticks="outside", ticklen=3, tickcolor="black", tickfont=dict(size=14),
               automargin=False),
    yaxis=dict(range=[-30, 30], tickvals=temp_ticks, ticktext=temp_tick_text, showgrid=True,
               gridcolor="rgb(175,175,175)", griddash="2px,8px", gridwidth=1, zeroline=False,
               showline=True, linecolor="black", linewidth=2.5, ticks="outside", ticklen=4,
               tickcolor="black", tickfont=dict(size=15), automargin=False),
    yaxis2=dict(range=[0, 2], dtick=0.2, tick0=0, overlaying="y", side="right", showgrid=False,
                zeroline=False, showline=True, linecolor="black", linewidth=2.5, ticks="outside",
                ticklen=4, tickcolor="black", tickfont=dict(size=15), automargin=False),
)

fig.write_html("out.html")
